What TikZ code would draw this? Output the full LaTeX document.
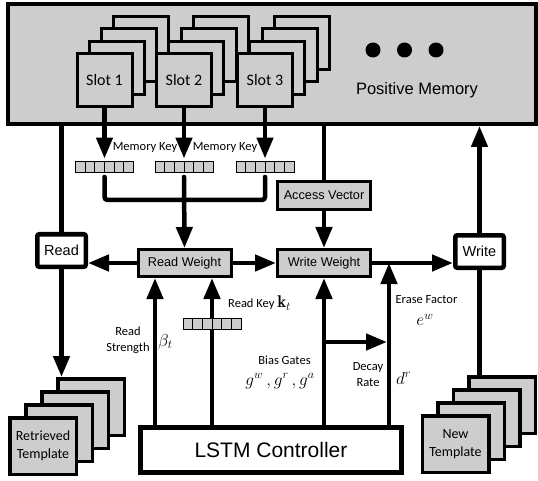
\documentclass[tikz,border=0pt]{standalone}
\usepackage{fontspec}
\usetikzlibrary{arrows.meta,calc}
\newfontfamily\helv{Liberation Sans}
\newfontfamily\calib{Carlito}
\definecolor{boxgray}{RGB}{205,205,205}
\begin{document}
\begin{tikzpicture}[x=1pt,y=-1pt,
  wire/.style={line width=4.5pt},
  arr/.style={line width=4.5pt,-{Triangle[length=21pt,width=16pt]}},
  slotbox/.style={draw,fill=boxgray,line width=3pt,inner sep=0pt,minimum width=55pt,minimum height=53pt,font=\calib\fontsize{16}{18}\selectfont},
  tplbox/.style={draw,fill=boxgray,line width=3.5pt,inner sep=0pt,minimum width=66.5pt,minimum height=56.5pt,align=center,font=\calib\fontsize{14}{18}\selectfont},
  opbox/.style={draw,fill=boxgray,line width=3pt,inner sep=0pt,minimum width=93pt,minimum height=27pt,font=\helv\fontsize{12.7}{14}\selectfont},
  rwbox/.style={draw,fill=white,line width=4.5pt,rounded corners=2pt,inner sep=0pt,minimum width=48.5pt,minimum height=32.5pt,font=\helv\fontsize{14.5}{16}\selectfont},
  cell/.style={draw,fill=boxgray,line width=1pt},
  lbl/.style={inner sep=0pt,font=\calib\fontsize{12.5}{16}\selectfont,align=center},
  mth/.style={inner sep=0pt,font=\fontsize{17}{20}\selectfont}
]
\useasboundingbox (0,0) rectangle (538,481);

% memory
\node[draw,fill=boxgray,line width=4pt,inner sep=0pt,minimum width=527.5pt,minimum height=120pt] (mem) at (271.75,64) {};
\foreach \sx/\n in {104.5/1,184/2,265/3}{
  \foreach \k in {3,2,1}
    \node[slotbox] (s\n-\k) at (\sx+12.3*\k,80-12.3*\k) {};
  \node[slotbox] (s\n) at (\sx,80) {Slot \n};
}
\foreach \dx [count=\i] in {373,404.5,436}
  \fill (\dx,50) circle (7.5pt) coordinate (dot\i);
\node[inner sep=0pt,font=\helv\fontsize{16.5}{18}\selectfont] (pm) at (417,90) {Positive Memory};

% memory key vectors
\foreach \vx/\n in {104.5/1,184/2,265/3}{
  \node[inner sep=0pt,minimum width=58pt,minimum height=11.5pt] (mk\n) at (\vx,167) {};
  \foreach \i in {0,...,5}
    \draw[cell] (\vx-29+\i*9.667,161.25) rectangle ++(9.667,11.5);
  \draw[arr,shorten >=2.5pt] (s\n.south) -- (mk\n.north);
}
\node[lbl] (mkl1) at (145,147) {Memory Key};
\node[lbl] (mkl2) at (225,147) {Memory Key};

% boxes
\node[opbox] (rw) at (184.5,263) {Read Weight};
\node[opbox] (ww) at (324,263) {Write Weight};
\node[opbox,minimum height=28pt] (av) at (324,195.5) {Access Vector};
\node[rwbox] (rd) at (61.5,250.5) {Read};
\node[rwbox] (wr) at (479.5,251.5) {Write};
\node[draw,fill=white,line width=5pt,inner sep=0pt,minimum width=261pt,minimum height=45pt,font=\helv\fontsize{21}{24}\selectfont] (lstm) at (271,450) {LSTM Controller};

% templates
\foreach \k in {3,2,1}
  \node[tplbox] (rt\k) at (43+16*\k,446-13*\k) {};
\node[tplbox] (rt0) at (43,446) {Retrieved\\Template};
\foreach \k in {3,2,1}
  \node[tplbox] (nt\k) at (455.5+15.5*\k,444-13*\k) {};
\node[tplbox] (nt0) at (455.5,444) {New\\Template};

% memory key merge
\coordinate (j) at (184,200);
\draw[wire,line cap=round,rounded corners=3pt] ([yshift=-4pt]mk1.south) |- (j) -| ([yshift=-4pt]mk3.south);
\draw[arr,line cap=round] ([yshift=-4pt]mk2.south) -- (rw.north);

% read / write paths
\draw[wire] (rd.north) -- (rd.north |- mem.south);
\draw[arr] (rd.south) -- (rd.south |- rt3.north);
\draw[arr] (rw.west) -- (rw.west -| rd.east);
\draw[arr] (rw.east) -- (ww.west);
\draw[wire] (av.north) -- (av.north |- mem.south);
\draw[arr] (av.south) -- (ww.north);
\draw[arr] (ww.east) -- (ww.east -| wr.west);
\draw[arr] (wr.north) -- (wr.north |- mem.south);
\draw[wire] (wr.south) -- (wr.south |- nt3.north);

% controller outputs
\draw[arr] ([xshift=-29.5pt]rw.south |- lstm.north) -- ([xshift=-29.5pt]rw.south);
\node[inner sep=0pt,minimum width=58pt,minimum height=11pt] (rk) at (212,323.5) {};
\draw[arr] (rk |- lstm.north) -- (rk |- rw.south);
\foreach \i in {0,...,5}
  \draw[cell] (183+\i*9.667,318) rectangle ++(9.667,11);
\draw[arr] (ww.south |- lstm.north) -- (ww.south);
\coordinate (ef) at (389,263);
\draw[arr] (ef |- lstm.north) -- (ef);
\coordinate (dr) at (389,342);
\draw[arr,shorten >=2pt] (dr -| ww.south) -- (dr);

% labels
\node[lbl,anchor=west] (rkl) at (228,303) {Read Key \normalfont\fontsize{17}{20}\selectfont$\mathbf{k}_t$};
\node[lbl] (rsl) at (128,340) {Read\\Strength};
\node[mth,anchor=west] (beta) at (158,342) {$\beta_t$};
\node[lbl] (bgl) at (284.5,360) {Bias Gates};
\node[mth] (gates) at (280,381) {$g^w\,, g^r\,, g^a$};
\node[lbl] (efl) at (426.5,300) {Erase Factor};
\node[mth] (ew) at (425,320) {$e^w$};
\node[lbl] (drl) at (368,375) {Decay\\Rate};
\node[mth,anchor=west] (dra) at (396,378) {$d^r$};
\end{tikzpicture}
\end{document}
